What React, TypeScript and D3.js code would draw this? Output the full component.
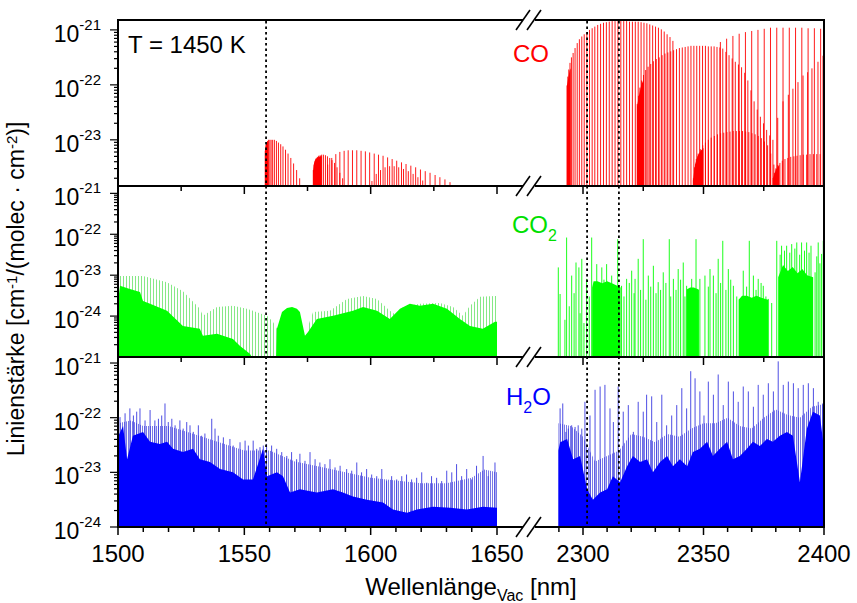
import React from "react";
import * as d3 from "d3";

type Pt = [number, number]; // [wavelength in nm, log10 of line strength]

// ---------- axes ----------
const xTickLabels = [1500, 1550, 1600, 1650, 2300, 2350, 2400];
const markerWavelengths = [1558.6, 2301.7, 2314.9];

// ---------- CO (top panel) ----------
const coBandA: Pt[] = [[1558.3,-23.2],[1558.6,-23.1],[1558.9,-23.05],[1559.2,-23.02],[1559.6,-23.0],[1560.1,-23.0],[1560.6,-23.0],[1561.2,-23.0],[1561.9,-23.0],[1562.7,-23.02],[1563.5,-23.05],[1564.4,-23.08],[1565.3,-23.12],[1566.3,-23.18],[1567.3,-23.25],[1568.4,-23.33],[1569.5,-23.43],[1570.7,-23.55],[1571.9,-23.7]];
const coBandB: Pt[] = [[1577.3,-23.55],[1577.6,-23.45],[1578.0,-23.38],[1578.4,-23.34],[1578.9,-23.31],[1579.4,-23.29],[1580.0,-23.28],[1580.6,-23.27],[1581.3,-23.27],[1582.1,-23.28],[1582.9,-23.3],[1583.8,-23.33],[1584.7,-23.37],[1585.7,-23.42],[1586.7,-23.5],[1587.8,-23.6],[1588.9,-23.7]];
const coBandC: Pt[] = [[1583.0,-23.45],[1584.6,-23.33],[1586.2,-23.26],[1587.8,-23.22],[1589.5,-23.2],[1591.1,-23.19],[1592.8,-23.19],[1594.5,-23.19],[1596.2,-23.2],[1597.9,-23.21],[1599.6,-23.23],[1601.4,-23.25],[1603.1,-23.27],[1604.9,-23.29],[1606.7,-23.32],[1608.5,-23.35],[1610.3,-23.38],[1612.2,-23.41],[1614.0,-23.44],[1615.9,-23.47],[1617.8,-23.5],[1619.7,-23.54],[1621.6,-23.57],[1623.5,-23.6],[1625.5,-23.64],[1627.4,-23.68],[1629.4,-23.72],[1631.4,-23.77]];
const coBandD: Pt[] = [[1600.5,-23.75],[1602.2,-23.62],[1603.9,-23.55],[1605.7,-23.5],[1607.5,-23.48],[1609.3,-23.48],[1611.1,-23.5],[1613.0,-23.53],[1614.9,-23.57],[1616.8,-23.62],[1618.7,-23.68],[1620.6,-23.74]];
const coBandE: Pt[] = [[2293.4,-22.01],[2293.7,-21.85],[2294.1,-21.72],[2294.6,-21.6],[2295.2,-21.5],[2295.9,-21.42],[2296.7,-21.33],[2297.6,-21.24],[2298.5,-21.17],[2299.5,-21.12],[2300.5,-21.08],[2301.6,-21.04],[2302.7,-21.0],[2303.8,-20.97],[2304.9,-20.94],[2306.1,-20.91],[2307.3,-20.89],[2308.5,-20.87],[2309.7,-20.86],[2310.9,-20.85],[2312.1,-20.84],[2313.3,-20.84],[2314.5,-20.84],[2315.7,-20.84],[2316.9,-20.84],[2318.1,-20.84],[2319.3,-20.85],[2320.5,-20.85],[2321.7,-20.85],[2322.9,-20.85],[2324.1,-20.86],[2325.3,-20.87],[2326.5,-20.88],[2327.7,-20.9],[2328.9,-20.92],[2330.1,-20.94],[2331.3,-20.96],[2332.5,-20.99],[2333.7,-21.03],[2334.9,-21.08],[2336.1,-21.13],[2337.3,-21.2]];
const coBandF: Pt[] = [[2322.5,-22.35],[2323.0,-22.2],[2323.6,-22.05],[2324.3,-21.92],[2325.1,-21.82],[2326.0,-21.73],[2327.0,-21.67],[2328.1,-21.62],[2329.2,-21.57],[2330.4,-21.53],[2331.6,-21.5],[2332.8,-21.46],[2334.0,-21.43],[2335.2,-21.41],[2336.4,-21.39],[2337.6,-21.37],[2338.8,-21.35],[2340.0,-21.33],[2341.2,-21.32],[2342.4,-21.31],[2343.6,-21.3],[2344.8,-21.29],[2346.0,-21.29],[2347.2,-21.29],[2348.4,-21.29],[2349.6,-21.29],[2350.8,-21.29],[2352.0,-21.3],[2353.2,-21.3],[2354.4,-21.3],[2355.6,-21.31],[2356.8,-21.32],[2358.0,-21.34],[2359.3,-21.4],[2360.6,-21.46],[2361.9,-21.52],[2363.2,-21.58],[2364.5,-21.63],[2365.8,-21.68],[2367.1,-21.78],[2368.4,-21.92],[2369.7,-22.1],[2371.0,-22.3],[2372.3,-22.45],[2373.6,-22.58],[2374.9,-22.7],[2376.2,-22.82],[2377.5,-22.92],[2378.8,-23.0]];
const coBandG: Pt[] = [[2357.0,-21.22],[2359.6,-21.16],[2362.2,-21.11],[2364.8,-21.07],[2367.4,-21.04],[2370.0,-21.02],[2372.6,-21.0],[2375.2,-20.98],[2377.8,-20.96],[2380.4,-20.96],[2383.0,-20.96],[2385.6,-20.96],[2388.2,-20.96],[2390.8,-20.96],[2393.4,-20.97],[2396.0,-20.97],[2398.6,-20.98]];
const coBandH: Pt[] = [[2345.8,-23.7],[2346.3,-23.5],[2347.0,-23.35],[2347.8,-23.25],[2348.7,-23.17],[2349.7,-23.1],[2350.8,-23.05],[2352.0,-23.0],[2353.2,-22.96],[2354.5,-22.93],[2355.8,-22.9],[2357.1,-22.88],[2358.4,-22.87],[2359.7,-22.86],[2361.0,-22.85],[2362.3,-22.84],[2363.6,-22.84],[2364.9,-22.84],[2366.2,-22.84],[2367.5,-22.85],[2368.8,-22.86],[2370.1,-22.88],[2371.4,-22.9],[2372.7,-22.93],[2374.0,-22.97],[2375.3,-23.03],[2376.6,-23.1],[2377.9,-23.25],[2379.2,-23.45],[2380.5,-23.7]];
const coBandI: Pt[] = [[2380.8,-22.6],[2383.0,-22.3],[2385.2,-22.18],[2387.1,-22.07],[2389.2,-21.95],[2391.3,-21.83],[2393.2,-21.77],[2395.0,-21.7],[2397.5,-21.58],[2399.6,-21.47]];
const coBandJ: Pt[] = [[2378.9,-23.7],[2379.4,-23.6],[2380.0,-23.52],[2380.8,-23.46],[2381.7,-23.42],[2382.7,-23.38],[2383.8,-23.35],[2385.0,-23.33],[2386.2,-23.31],[2387.5,-23.3],[2388.8,-23.29],[2390.1,-23.28],[2391.4,-23.27],[2392.8,-23.27],[2394.2,-23.26],[2395.6,-23.26],[2397.0,-23.26],[2398.4,-23.26],[2399.8,-23.26]];
// unresolved band heads
const coHeadA: Pt[] = [[1558.15,-23.2],[1558.5,-23.1],[1559.0,-23.04],[1559.5,-23.02]];
const coHeadB: Pt[] = [[1577.2,-23.57],[1577.6,-23.42],[1578.2,-23.35],[1579.0,-23.32],[1580.0,-23.3],[1580.7,-23.3]];
const coHeadE: Pt[] = [[2293.3,-22.02],[2293.8,-21.9],[2294.4,-21.75],[2294.9,-21.7]];
const coHeadF: Pt[] = [[2322.4,-22.4],[2323.2,-22.2],[2324.2,-22.0],[2325.2,-21.9]];
const coHeadH: Pt[] = [[2345.6,-23.75],[2346.5,-23.45],[2347.5,-23.3],[2348.8,-23.2],[2350.0,-23.15]];
const coHeadJ: Pt[] = [[2378.8,-23.7],[2380.0,-23.55],[2381.5,-23.45]];

// ---------- CO2 (middle panel) ----------
const co2CombLeft1: Pt[] = [[1500,-23.02],[1509.9,-23.02],[1519.4,-23.17],[1525.7,-23.39],[1532.4,-23.82],[1533.6,-23.99],[1539.2,-23.78],[1545.5,-23.75],[1551.0,-23.82],[1559.0,-23.99],[1561.3,-24.14],[1562.9,-24.31]];
const co2CombLeft2: Pt[] = [[1575.5,-24.2],[1577.2,-23.9],[1583.9,-23.87],[1590.6,-23.58],[1597.0,-23.51],[1602.5,-23.58],[1607.6,-23.87],[1610.4,-23.99],[1612.8,-23.78],[1619.5,-23.7],[1627.4,-23.68],[1632.6,-23.78],[1636.5,-23.99],[1639.3,-23.75],[1643.3,-23.53],[1649.2,-23.51],[1650,-23.51]];
const co2FillLeft1: Pt[] = [[1500,-23.65],[1500.8,-23.26],[1504.7,-23.34],[1508.7,-23.41],[1509.9,-23.63],[1512.7,-23.7],[1519.4,-23.87],[1525.7,-24.24],[1532.4,-24.31],[1533.6,-24.48],[1539.2,-24.43],[1543.1,-24.51],[1545.5,-24.56],[1548.3,-24.73],[1552.2,-24.92],[1553.0,-25]];
const co2FillLeft2: Pt[] = [[1562.6,-25],[1562.9,-24.31],[1564.9,-23.9],[1566.9,-23.8],[1568.9,-23.78],[1570.8,-23.82],[1572.0,-23.9],[1574.0,-24.48],[1575.2,-24.39],[1578.7,-24.07],[1585.1,-23.99],[1587.9,-23.95],[1593.0,-23.87],[1597.0,-23.78],[1602.5,-23.87],[1607.6,-24.07],[1611.6,-23.82],[1615.5,-23.7],[1619.5,-23.75],[1624.7,-23.7],[1630.2,-23.82],[1635.3,-24.07],[1639.3,-24.24],[1644.4,-24.31],[1649.2,-24.14],[1650,-24.14]];
const co2ClusterR1: Pt[] = [[2303.8,-23.3],[2304.4,-23.15],[2306,-23.15],[2308,-23.2],[2310,-23.15],[2312,-23.2],[2314,-23.25],[2315.6,-23.3]];
const co2ClusterR2: Pt[] = [[2343.0,-23.35],[2344.5,-23.3],[2346,-23.3],[2348,-23.35]];
const co2ClusterR3: Pt[] = [[2364.6,-23.6],[2366,-23.5],[2368,-23.5],[2370,-23.55],[2372,-23.5],[2374,-23.55],[2376.8,-23.6]];
const co2ClusterR4: Pt[] = [[2381,-23.05],[2383,-22.75],[2385,-22.9],[2387,-22.8],[2389,-22.95],[2391,-22.85],[2393,-23.0],[2395.5,-23.05]];
const co2LinesRight: Pt[] = [[2289.75,-22.81],[2290.5,-23.46],[2293.2,-22.08],[2295.3,-23.01],[2297.1,-22.69],[2298.3,-22.81],[2299.5,-22.6],[2301.5,-23.09],[2303.6,-22.08],[2305.7,-22.73],[2307.8,-22.81],[2309.8,-22.73],[2311.9,-23.01],[2314.4,-22.12],[2316.0,-23.26],[2318.1,-23.09],[2320.2,-22.89],[2321.6,-23.09],[2322.9,-22.6],[2325.0,-22.12],[2327.1,-23.01],[2329.2,-22.77],[2331.2,-23.17],[2333.3,-22.93],[2335.8,-22.12],[2337.5,-23.09],[2339.5,-22.85],[2341.6,-22.69],[2343.0,-23.26],[2345.1,-23.09],[2346.9,-22.12],[2348.5,-23.09],[2350.6,-23.01],[2352.7,-22.85],[2354.1,-23.01],[2356.1,-22.6],[2358.0,-22.16],[2360.3,-22.85],[2362.4,-23.26],[2364.9,-23.58],[2366.5,-22.89],[2369.0,-22.16],[2370.7,-23.01],[2372.7,-23.09],[2374.8,-23.26],[2376.9,-23.58],[2380.4,-22.16],[2382.4,-22.28],[2384.5,-22.28],[2386.6,-22.24],[2388.7,-22.2],[2390.7,-22.2],[2392.8,-22.2],[2394.6,-22.28],[2396.3,-22.93],[2397.6,-22.2],[2399.0,-22.48],[2399.7,-22.16]];
const co2LinesRightLow: Pt[] = [[2292.5,-24.09],[2294.3,-23.76],[2296.3,-23.44],[2298.8,-23.93],[2300.4,-24.17],[2302.6,-23.52],[2305.0,-23.36],[2306.6,-23.28],[2308.7,-23.11],[2310.9,-23.36],[2313.3,-23.28],[2317.0,-23.52],[2319.2,-23.19],[2321.2,-23.44],[2323.9,-23.36],[2326.1,-23.6],[2328.1,-23.28],[2330.3,-23.44],[2332.2,-23.36],[2334.4,-23.19],[2336.4,-23.52],[2338.6,-23.36],[2340.5,-23.11],[2342.3,-23.52],[2347.9,-23.36],[2352.0,-23.28],[2355.2,-23.44],[2357.1,-23.19],[2359.3,-23.36],[2361.3,-23.11],[2363.8,-23.52],[2367.9,-23.28],[2371.8,-23.36],[2373.9,-23.19],[2375.9,-23.52],[2378.3,-23.68],[2381.8,-22.5],[2383.6,-22.4],[2385.8,-22.45],[2387.9,-22.35],[2389.9,-22.5],[2391.9,-22.4],[2393.8,-22.45],[2397.0,-22.54],[2398.3,-22.71]];

// ---------- H2O (bottom panel) ----------
const h2oFillLeft: Pt[] = [[1500,-22.35],[1502.0,-22.15],[1503.6,-22.76],[1505.9,-22.33],[1509.9,-22.26],[1512.7,-22.44],[1516.6,-22.48],[1519.4,-22.44],[1521.8,-22.57],[1525.7,-22.63],[1529.7,-22.57],[1532.4,-22.76],[1536.4,-22.81],[1540.4,-22.94],[1545.5,-23.0],[1549.5,-23.13],[1553.4,-23.13],[1557.4,-22.57],[1559.0,-23.07],[1562.9,-23.0],[1565.3,-23.07],[1568.1,-23.37],[1572.0,-23.31],[1578.7,-23.37],[1585.1,-23.31],[1589.0,-23.37],[1593.0,-23.44],[1598.5,-23.5],[1604.9,-23.55],[1608.8,-23.68],[1614.4,-23.74],[1618.3,-23.68],[1624.7,-23.63],[1631.4,-23.65],[1638.1,-23.68],[1644.4,-23.63],[1650,-23.65]];
const h2oPaleLeft: Pt[] = [[1500,-22.1],[1505,-22.05],[1510,-22.15],[1520,-22.15],[1530,-22.3],[1540,-22.45],[1550,-22.6],[1560,-22.6],[1570,-22.8],[1580,-22.9],[1590,-23.0],[1600,-23.1],[1610,-23.15],[1620,-23.2],[1630,-23.2],[1640,-23.1],[1645,-22.95],[1650,-23.0]];
const h2oLinesLeft: Pt[] = [[1500.8,-21.99],[1502.8,-21.92],[1504.7,-21.83],[1506.1,-21.96],[1507.4,-21.89],[1508.7,-21.83],[1510.7,-22.05],[1512.7,-21.86],[1514.6,-22.05],[1516.0,-22.02],[1517.3,-21.96],[1518.6,-21.74],[1519.9,-22.08],[1521.3,-22.02],[1522.6,-22.14],[1524.5,-22.05],[1525.8,-22.2],[1527.2,-22.08],[1528.5,-22.14],[1529.8,-22.26],[1531.8,-22.14],[1533.1,-22.33],[1534.4,-22.29],[1537.1,-22.02],[1538.4,-22.2],[1539.7,-22.33],[1541.7,-22.36],[1544.3,-22.39],[1545.6,-22.51],[1548.3,-22.45],[1550.3,-22.42],[1551.6,-22.51],[1553.5,-22.42],[1554.9,-22.57],[1556.2,-22.54],[1557.5,-22.51],[1558.8,-22.48],[1560.8,-22.51],[1562.8,-22.57],[1564.8,-22.63],[1566.8,-22.7],[1568.7,-22.63],[1570.7,-22.76],[1572.0,-22.66],[1574.0,-22.79],[1576.0,-22.63],[1578.0,-22.76],[1579.9,-22.82],[1581.9,-22.85],[1583.9,-22.76],[1585.9,-22.91],[1587.9,-22.88],[1590.5,-22.94],[1592.5,-22.97],[1594.5,-22.82],[1596.4,-23.0],[1598.4,-22.94],[1600.4,-23.04],[1602.4,-23.07],[1604.4,-22.94],[1606.3,-23.16],[1608.3,-23.07],[1610.3,-23.13],[1612.3,-23.07],[1614.2,-23.04],[1616.2,-23.13],[1618.2,-23.1],[1620.2,-23.0],[1622.2,-23.19],[1624.1,-23.07],[1626.1,-23.1],[1628.1,-23.16],[1630.1,-22.97],[1632.1,-23.0],[1634.0,-22.85],[1636.0,-23.07],[1638.0,-22.94],[1640.0,-23.13],[1641.9,-22.88],[1644.5,-22.7],[1646.5,-23.07],[1649.2,-22.82]];
const h2oFillRight: Pt[] = [[2289.8,-22.6],[2290.5,-22.45],[2293.4,-22.39],[2295.9,-22.76],[2298.8,-22.7],[2301.7,-23.31],[2304.1,-23.5],[2307.1,-23.37],[2310.0,-23.31],[2312.4,-23.07],[2315.4,-23.18],[2318.3,-22.89],[2320.7,-22.7],[2323.7,-22.81],[2326.6,-22.76],[2329.0,-23.0],[2332.0,-22.81],[2334.9,-22.7],[2337.3,-22.89],[2340.2,-22.76],[2343.2,-22.89],[2345.6,-22.63],[2348.5,-22.57],[2351.5,-22.44],[2353.9,-22.7],[2356.8,-22.57],[2359.8,-22.44],[2362.2,-22.76],[2365.1,-22.7],[2368.0,-22.57],[2370.5,-22.44],[2373.4,-22.52],[2376.3,-22.39],[2378.8,-22.44],[2381.7,-22.33],[2384.6,-22.26],[2387.1,-22.33],[2390.0,-23.18],[2392.9,-22.2],[2395.4,-21.89],[2398.3,-21.96],[2400,-22.57]];
const h2oPaleRight: Pt[] = [[2289.8,-22.1],[2295,-22.15],[2300,-22.35],[2305,-22.8],[2310,-22.7],[2315,-22.6],[2320,-22.3],[2325,-22.35],[2330,-22.45],[2335,-22.3],[2340,-22.35],[2345,-22.2],[2350,-22.1],[2355,-22.1],[2360,-22.0],[2365,-22.15],[2370,-22.2],[2375,-22.0],[2380,-21.85],[2385,-21.95],[2390,-22.0],[2395,-21.8],[2400,-21.75]];
const h2oLinesRight: Pt[] = [[2290.5,-21.83],[2291.6,-21.74],[2292.9,-22.26],[2293.9,-22.2],[2295.3,-22.14],[2296.7,-22.17],[2298.0,-22.14],[2299.5,-22.2],[2300.8,-21.71],[2302.9,-21.96],[2305.0,-21.49],[2307.1,-21.43],[2309.1,-21.4],[2311.2,-21.83],[2312.6,-22.08],[2314.6,-21.43],[2316.7,-21.89],[2318.8,-21.77],[2320.9,-22.26],[2322.9,-21.71],[2325.0,-21.89],[2326.4,-21.58],[2328.5,-21.61],[2330.6,-22.08],[2332.7,-21.58],[2334.7,-22.14],[2336.8,-21.96],[2338.9,-21.77],[2341.0,-21.46],[2343.0,-21.83],[2344.7,-21.15],[2346.5,-21.28],[2348.5,-21.52],[2350.2,-21.96],[2352.0,-21.34],[2354.1,-21.58],[2356.1,-21.21],[2358.2,-21.77],[2360.3,-21.34],[2362.4,-21.52],[2364.4,-21.71],[2366.5,-21.43],[2368.6,-21.52],[2370.7,-21.8],[2372.7,-21.4],[2374.8,-21.58],[2376.9,-21.37],[2379.0,-21.52],[2381.0,-20.97],[2383.1,-21.4],[2385.2,-21.34],[2387.3,-21.37],[2389.3,-21.46],[2391.4,-21.4],[2393.5,-21.37],[2395.6,-21.46],[2397.6,-21.71],[2399.5,-21.74]];

// ---------- layout ----------
const W = 857;
const H = 603;
const X0 = 118;
const X1 = 824;
const BREAK_X = 529;
const FONT = "'Liberation Sans', Arial, Helvetica, sans-serif";

const xLeft = d3.scaleLinear().domain([1500, 1650]).range([118, 497]);
const xRight = d3.scaleLinear().domain([2300, 2400]).range([583, 824]);
const xw = (nm: number) => (nm < 2000 ? xLeft(nm) : xRight(nm));

const panelDefs = [
  { key: "co", top: 20, bottom: 186, lo: -23.84, hi: -20.82, labels: [-21, -22, -23] },
  { key: "co2", top: 186, bottom: 357, lo: -25, hi: -20.82, labels: [-21, -22, -23, -24] },
  { key: "h2o", top: 357, bottom: 527, lo: -24, hi: -20.89, labels: [-21, -22, -23, -24] },
];

type YScale = d3.ScaleLogarithmic<number, number>;

function sticks(data: Pt[], y: YScale, color: string, w: number, key: string) {
  const base = y.range()[0];
  return data.map(([nm, e], i) => {
    const x = xw(nm);
    return <line key={key + i} x1={x} x2={x} y1={base} y2={y(10 ** e)} stroke={color} strokeWidth={w} />;
  });
}

function areaPath(data: Pt[], y: YScale) {
  const base = y.range()[0];
  return d3
    .area<Pt>()
    .x((d) => xw(d[0]))
    .y0(base)
    .y1((d) => y(10 ** d[1]))(data) as string;
}

export default function App() {
  const panels = panelDefs.map((p) => ({
    ...p,
    y: d3.scaleLog().domain([10 ** p.lo, 10 ** p.hi]).range([p.bottom, p.top]).clamp(true),
  }));
  const [pCO, pCO2, pH2O] = panels;

  const coBands = [coBandA, coBandB, coBandC, coBandD, coBandE, coBandF, coBandG, coBandH, coBandI, coBandJ];
  const coHeads = [coHeadA, coHeadB, coHeadE, coHeadF, coHeadH, coHeadJ];

  // x ticks
  const upperTicks = [...d3.range(1500, 1651, 25), ...d3.range(2300, 2401, 25)];
  const lowerTicks = [...d3.range(1500, 1651, 10), ...d3.range(2290, 2401, 10)];
  const isMajorX = (v: number) => v % 50 === 0;

  const breakMark = (y: number, k: string) => (
    <g key={k}>
      <rect x={BREAK_X - 6} y={y - 2} width={12} height={4} fill="#fff" />
      <line x1={BREAK_X - 13} y1={y + 10} x2={BREAK_X + 1} y2={y - 10} stroke="#000" strokeWidth={1.6} />
      <line x1={BREAK_X - 2} y1={y + 10} x2={BREAK_X + 12} y2={y - 10} stroke="#000" strokeWidth={1.6} />
    </g>
  );

  return (
    <svg
      width={W}
      height={H}
      viewBox={`0 0 ${W} ${H}`}
      style={{ position: "absolute", left: 0, top: 0, background: "#fff" }}
      fontFamily={FONT}
    >
      <defs>
        {panels.map((p) => (
          <clipPath id={`clip-${p.key}`} key={p.key}>
            <rect x={X0} y={p.top} width={X1 - X0} height={p.bottom - p.top} />
          </clipPath>
        ))}
        <pattern id="combGreen" width={3} height={6} patternUnits="userSpaceOnUse">
          <rect x={0} y={0} width={1} height={6} fill="#86e886" />
        </pattern>
        <pattern id="combBlue" width={2} height={6} patternUnits="userSpaceOnUse">
          <rect x={0} y={0} width={1} height={6} fill="#7a7ae6" />
        </pattern>
      </defs>
      <rect x={0} y={0} width={W} height={H} fill="#fff" />

      {/* CO */}
      <g clipPath="url(#clip-co)">
        {coHeads.map((d, i) => (
          <path key={"coh" + i} d={areaPath(d, pCO.y)} fill="#ff0000" />
        ))}
        {coBands.map((d, i) => sticks(d, pCO.y, "#ff0000", 0.9, "co" + i + "-"))}
      </g>

      {/* CO2 */}
      <g clipPath="url(#clip-co2)">
        <path d={areaPath(co2CombLeft1, pCO2.y)} fill="url(#combGreen)" />
        <path d={areaPath(co2CombLeft2, pCO2.y)} fill="url(#combGreen)" />
        <path d={areaPath(co2FillLeft1, pCO2.y)} fill="#00ff00" />
        <path d={areaPath(co2FillLeft2, pCO2.y)} fill="#00ff00" />
        {[co2ClusterR1, co2ClusterR2, co2ClusterR3, co2ClusterR4].map((d, i) => (
          <path key={"cl" + i} d={areaPath(d, pCO2.y)} fill="#00ff00" />
        ))}
        {sticks(co2LinesRightLow, pCO2.y, "#00ff00", 0.9, "co2l")}
        {sticks(co2LinesRight, pCO2.y, "#00ff00", 0.9, "co2r")}
      </g>

      {/* H2O */}
      <g clipPath="url(#clip-h2o)">
        <path d={areaPath(h2oPaleLeft, pH2O.y)} fill="url(#combBlue)" />
        <path d={areaPath(h2oPaleRight, pH2O.y)} fill="url(#combBlue)" />
        {sticks(h2oLinesLeft, pH2O.y, "#3a3ae0", 0.9, "h2ol")}
        {sticks(h2oLinesRight, pH2O.y, "#3a3ae0", 0.9, "h2or")}
        <path d={areaPath(h2oFillLeft, pH2O.y)} fill="#0000ff" />
        <path d={areaPath(h2oFillRight, pH2O.y)} fill="#0000ff" />
      </g>

      {/* panel frames */}
      {panels.map((p) => (
        <rect
          key={"f" + p.key}
          x={X0}
          y={p.top}
          width={X1 - X0}
          height={p.bottom - p.top}
          fill="none"
          stroke="#000"
          strokeWidth={2}
        />
      ))}

      {/* y ticks and labels */}
      {panels.map((p) =>
        p.y.ticks().map((t, i) => {
          const e = Math.log10(t);
          const major = Math.abs(e - Math.round(e)) < 1e-6;
          const yy = p.y(t);
          if (yy < p.top - 0.5 || yy > p.bottom + 0.5) return null;
          return (
            <line
              key={p.key + "yt" + i}
              x1={X0}
              x2={X0 - (major ? 8 : 4)}
              y1={yy}
              y2={yy}
              stroke="#000"
              strokeWidth={1.2}
            />
          );
        })
      )}
      {panels.map((p) =>
        p.labels.map((e) => {
          const yy = p.y(10 ** e);
          return (
            <text key={p.key + "yl" + e} x={101} y={yy + 12} textAnchor="end" fontSize={23} fill="#000">
              10
              <tspan dy={-12} fontSize={15}>
                {String(e)}
              </tspan>
            </text>
          );
        })
      )}

      {/* x ticks on panel boundaries */}
      {[pCO, pCO2].map((p) =>
        upperTicks.map((v) => {
          const x = xw(v);
          return (
            <line
              key={p.key + "xt" + v}
              x1={x}
              x2={x}
              y1={p.bottom}
              y2={p.bottom + (isMajorX(v) ? 8 : 5)}
              stroke="#000"
              strokeWidth={1.5}
            />
          );
        })
      )}
      {lowerTicks.map((v) => {
        const x = xw(v);
        return (
          <line
            key={"bxt" + v}
            x1={x}
            x2={x}
            y1={pH2O.bottom}
            y2={pH2O.bottom + (isMajorX(v) ? 8 : 5)}
            stroke="#000"
            strokeWidth={1.5}
          />
        );
      })}
      {xTickLabels.map((v) => (
        <text key={"xl" + v} x={xw(v)} y={562} textAnchor="middle" fontSize={24} fill="#000">
          {v}
        </text>
      ))}

      {/* axis breaks */}
      {[20, 186, 357, 527].map((y, i) => breakMark(y, "br" + i))}

      {/* reference wavelengths */}
      {markerWavelengths.map((nm) => (
        <line
          key={"m" + nm}
          x1={xw(nm)}
          x2={xw(nm)}
          y1={21}
          y2={527}
          stroke="#000"
          strokeWidth={1.8}
          strokeDasharray="2.5,3"
        />
      ))}

      {/* annotations */}
      <text x={128} y={53} fontSize={24} fill="#000">
        T = 1450 K
      </text>
      <text x={513} y={62} fontSize={24} fill="#ff0000">
        CO
      </text>
      <text x={512} y={233} fontSize={24} fill="#00e000">
        CO
        <tspan dy={8} fontSize={16}>
          2
        </tspan>
      </text>
      <text x={506} y={405} fontSize={24} fill="#0000ff">
        H
        <tspan dy={8} fontSize={16}>
          2
        </tspan>
        <tspan dy={-8}>O</tspan>
      </text>

      {/* axis titles */}
      <text x={471} y={595} textAnchor="middle" fontSize={24} fill="#000">
        Wellenlänge
        <tspan dy={6} fontSize={16}>
          Vac
        </tspan>
        <tspan dy={-6}> [nm]</tspan>
      </text>
      <text transform="translate(24,289) rotate(-90)" textAnchor="middle" fontSize={23} fill="#000">
        Linienstärke [cm
        <tspan dy={-7} fontSize={15}>
          -1
        </tspan>
        <tspan dy={7}>/(molec · cm</tspan>
        <tspan dy={-7} fontSize={15}>
          -2
        </tspan>
        <tspan dy={7}>)]</tspan>
      </text>
    </svg>
  );
}
